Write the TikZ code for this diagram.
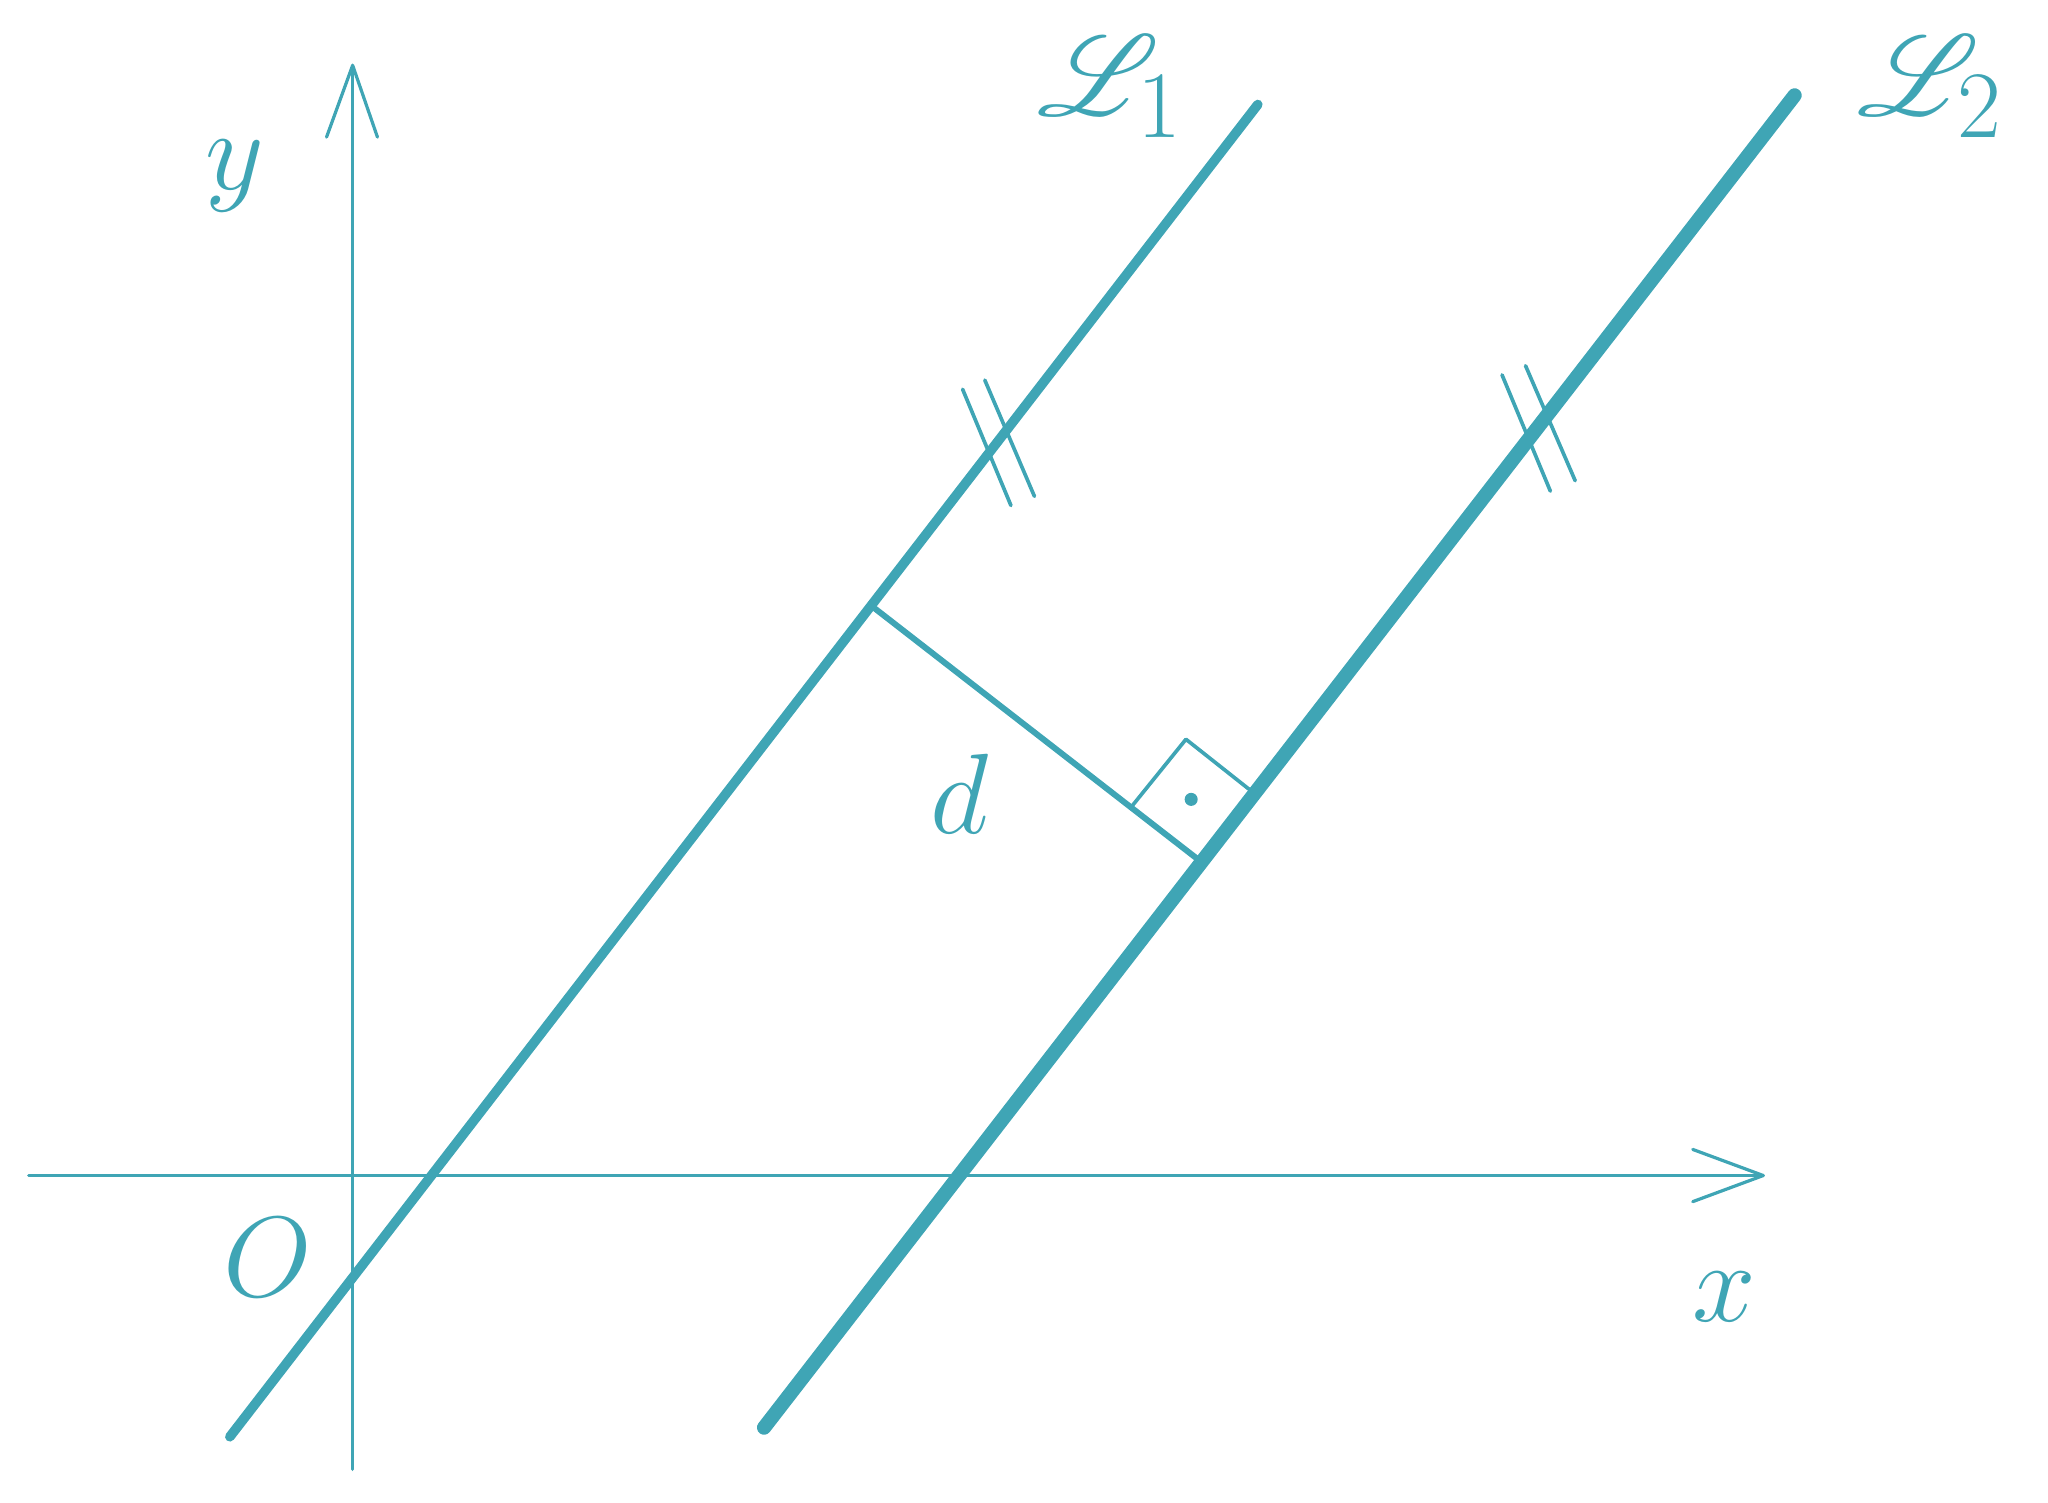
\documentclass[tikz,border=0pt]{standalone}
\usepackage{mathrsfs}
\definecolor{tc}{HTML}{3FA5B5}
\begin{document}
\begin{tikzpicture}[x=0.01cm,y=-0.01cm,
  ax/.style={tc,line width=0.7pt,line cap=round},
  ln/.style={tc,line cap=round},
  lbl/.style={tc,font=\fontsize{28}{32}\selectfont}]
\useasboundingbox (0,0) rectangle (1568,1150);
% axes
\coordinate (yb) at (270,1125); \coordinate (yt) at (270,50);
\coordinate (xl) at (22,900); \coordinate (xr) at (1350,900);
\draw[ax] (yb) -- (yt);
\draw[ax,line join=round] (250,105) -- (yt) -- (289,105);
\draw[ax] (xl) -- (xr);
\draw[ax,line join=round] (1296,880) -- (xr) -- (1296,920);
% lines
\coordinate (a1) at (176,1100); \coordinate (b1) at (963,80);
\coordinate (a2) at (585,1093); \coordinate (b2) at (1374,73);
\draw[ln,line width=2.1pt] (a1) -- (b1);
\draw[ln,line width=3.1pt] (a2) -- (b2);
% perpendicular
\coordinate (p1) at (670,466); \coordinate (p2) at (916,657);
\draw[ln,line width=1.3pt] (p1) -- (p2);
\draw[ln,line width=0.8pt,line join=round] (866,618) -- (908,566) -- (956,604);
\fill[tc] (912,612) circle (5);
% ticks
\draw[ln,line width=0.8pt] (737,298) -- (774,387) (754,291) -- (792,380);
\draw[ln,line width=0.8pt] (1150,287) -- (1187,376) (1168,280) -- (1206,368);
% labels
\node[lbl] (d) at (735,608) {$d$};
\node[lbl] (O) at (205,963) {$O$};
\node[lbl] (x) at (1320,993) {$x$};
\node[lbl] (y) at (180,135) {$y$};
\node[lbl] (L1) at (850,66) {$\mathscr{L}_1$};
\node[lbl] (L2) at (1478,66) {$\mathscr{L}_2$};
\end{tikzpicture}
\end{document}
